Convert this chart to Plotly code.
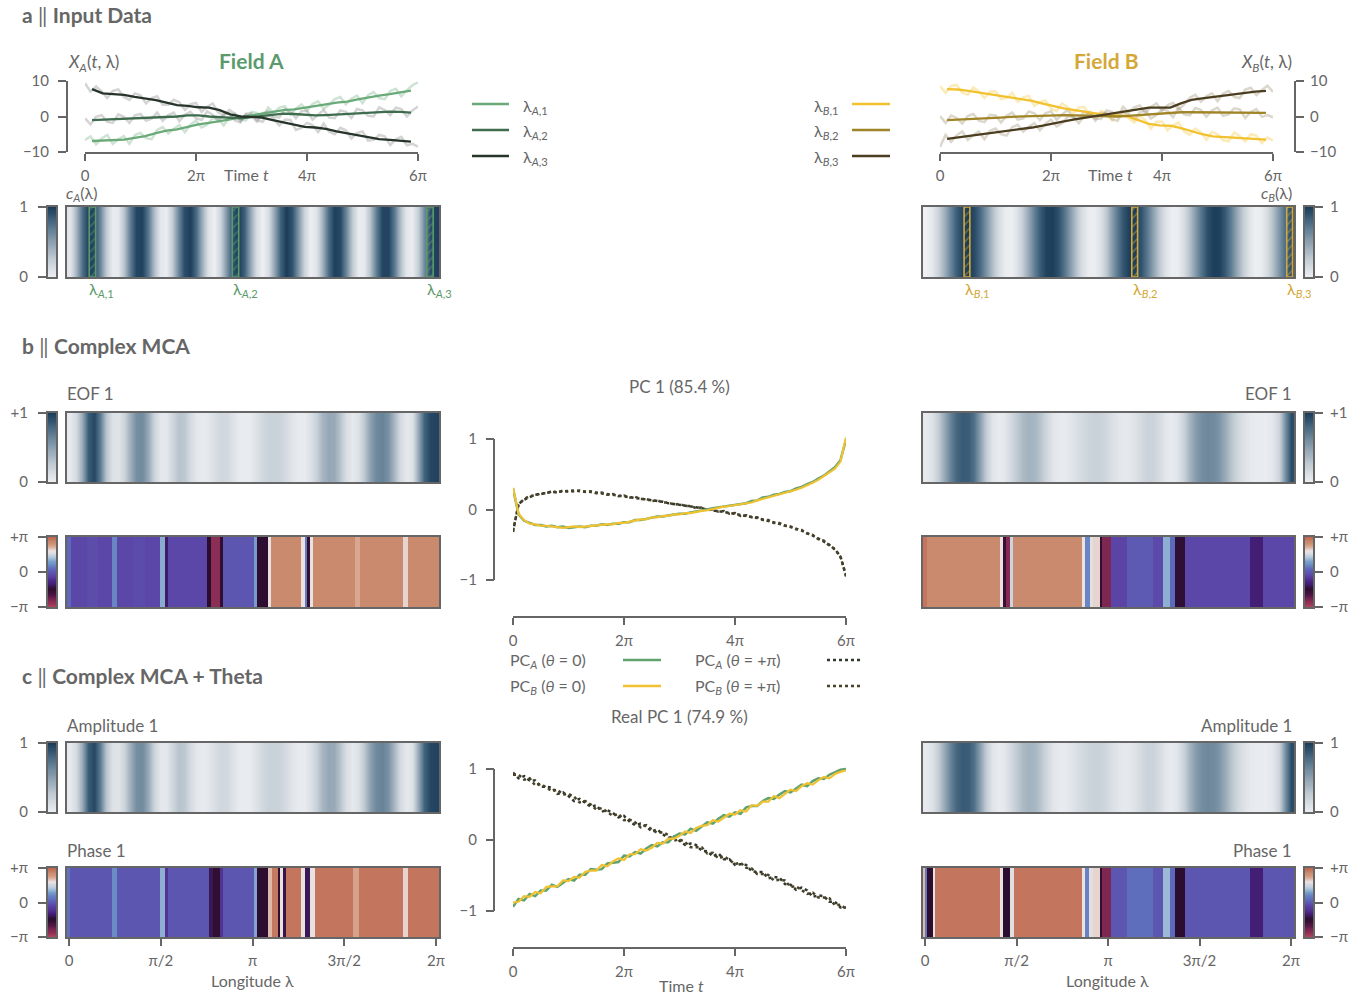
import numpy as np
import plotly.graph_objects as go

W, H = 1372, 995
PI = np.pi

# ---------------- data ----------------
t_raw = np.linspace(0, 6 * PI, 61)
t_smooth = np.linspace(0.4, 18.45, 31)
t_pc = np.linspace(0, 6 * PI, 61)

xa1_raw = [-6.6,-5.6,-7.8,-6.2,-5.2,-7.7,-6.4,-5.5,-7.7,-5.2,-4.6,-6.1,-6.4,-3.8,-3.0,-4.8,-3.5,-2.4,-4.4,-2.3,-1.1,-3.1,-2.3,-0.5,-0.6,-2.5,-0.3,0.8,-0.9,-1.1,1.3,1.0,-0.4,2.5,1.0,2.5,2.9,0.5,2.2,3.4,1.6,3.5,4.3,2.2,3.3,4.9,5.5,3.4,5.0,5.9,3.8,6.0,6.9,5.2,4.9,7.2,7.8,5.7,7.4,8.8,9.6]
xa2_raw = [-0.5,-2.2,-0.1,0.4,-1.5,-1.8,0.6,-0.1,-1.8,0.3,0.7,-1.2,-0.6,1.1,-1.2,0.4,1.1,-1.3,0.5,1.3,-0.5,-1.0,1.4,0.5,-1.3,0.6,1.0,-1.1,-1.7,0.6,0.1,-1.5,0.9,1.5,0.0,-0.3,2.1,1.4,-0.5,1.5,1.6,-0.9,0.5,1.8,-0.3,-0.5,1.7,1.3,-0.4,2.1,1.7,0.2,0.0,2.6,1.8,0.4,2.5,2.1,0.0,1.7,2.8]
xa3_raw = [9.4,7.0,8.5,7.1,5.2,7.2,7.6,5.5,4.7,6.5,6.0,3.7,5.2,5.7,3.3,3.3,4.7,4.0,1.9,3.5,3.8,1.3,2.7,3.7,1.2,0.3,1.9,0.8,-1.3,0.8,0.9,-1.0,-1.5,0.6,-0.7,-2.5,-0.9,-0.9,-3.8,-3.2,-1.8,-2.4,-4.4,-2.0,-4.3,-5.0,-3.2,-3.9,-6.2,-4.7,-4.2,-6.8,-6.6,-5.2,-5.6,-8.0,-6.4,-5.7,-8.1,-7.7,-8.5]
xa1_smooth = [-6.9,-6.8,-6.6,-6.5,-6.0,-5.5,-4.7,-4.0,-3.6,-2.9,-2.2,-1.8,-1.4,-0.8,-0.2,0.3,0.8,1.5,1.8,2.0,2.4,2.9,3.4,3.9,4.2,4.8,5.4,5.9,6.3,6.7,7.3]
xa2_smooth = [-1.0,-0.9,-0.7,-0.5,-0.5,-0.3,-0.3,-0.2,0.0,0.3,0.3,0.0,-0.2,-0.4,-0.5,-0.2,0.1,0.5,0.8,0.7,0.5,0.3,0.4,0.6,0.8,0.9,1.1,1.3,1.4,1.3,1.1]
xa3_smooth = [7.7,6.5,6.3,6.1,5.5,5.1,4.6,3.9,3.2,3.0,2.6,2.5,1.8,0.6,0.0,-0.1,-0.3,-1.0,-1.6,-2.4,-2.9,-3.1,-3.5,-4.2,-4.7,-5.2,-5.9,-6.4,-6.6,-6.8,-7.1]

xb1_raw = [8.6,6.6,8.6,8.9,6.7,6.1,8.2,7.1,5.2,7.0,7.1,4.9,5.2,6.7,4.1,5.4,5.8,3.0,4.1,4.5,2.2,1.5,3.7,2.6,0.8,2.5,2.7,0.5,-0.4,1.6,0.7,-1.1,1.1,1.3,-0.5,-1.7,0.2,-1.1,-3.4,-1.5,-1.4,-3.9,-2.5,-1.7,-4.3,-5.1,-3.4,-4.4,-6.6,-4.3,-5.0,-6.7,-7.0,-4.5,-5.5,-7.0,-5.0,-5.4,-7.5,-5.9,-6.8]
xb2_raw = [0.1,-1.8,0.3,-0.4,-2.0,0.1,0.7,-1.2,-1.6,0.5,0.3,-1.7,0.2,1.1,-0.9,-0.5,1.4,0.9,-1.0,0.9,1.5,-0.9,0.6,1.8,-0.4,-0.7,1.4,0.7,-1.2,1.0,1.0,-0.8,-1.2,1.4,0.5,-0.8,1.2,1.8,-0.6,0.4,2.0,1.6,-0.2,2.5,0.6,0.3,2.4,1.9,-0.1,1.7,2.5,0.2,0.6,2.3,2.0,-0.4,1.3,2.1,-0.1,0.4,-0.2]
xb3_raw = [-8.6,-5.2,-7.1,-5.3,-4.2,-6.6,-5.2,-4.2,-6.4,-4.0,-3.4,-5.0,-5.4,-3.0,-2.3,-4.3,-2.9,-1.9,-3.9,-2.0,-0.9,-2.8,-1.9,0.0,0.0,-1.9,0.2,1.3,-0.6,-0.7,1.7,1.3,-0.1,2.7,1.1,2.6,3.1,0.9,2.7,3.7,1.6,3.2,3.8,2.0,3.4,5.3,6.1,4.2,5.7,6.5,4.3,6.4,7.2,5.5,5.2,7.6,8.1,6.0,7.5,8.7,6.9]
xb1_smooth = [7.7,7.6,7.2,6.7,6.2,5.8,5.3,4.9,4.4,3.6,2.9,2.3,1.8,1.3,0.8,0.4,0.3,0.0,-1.0,-2.1,-2.5,-2.6,-3.3,-4.2,-5.0,-5.6,-5.8,-5.8,-6.0,-6.2,-6.5]
xb2_smooth = [-1.0,-0.9,-0.8,-0.6,-0.5,-0.3,-0.1,0.0,0.1,0.3,0.4,0.4,0.3,0.2,0.1,0.0,0.0,0.2,0.4,0.7,0.9,1.0,1.2,1.2,1.2,1.2,1.1,1.1,1.0,1.0,1.0]
xb3_smooth = [-6.3,-5.9,-5.5,-5.2,-4.8,-4.4,-3.9,-3.5,-3.1,-2.6,-2.1,-1.4,-0.8,-0.3,0.2,0.7,1.1,1.6,2.0,2.5,2.5,2.5,3.7,4.7,5.1,5.5,5.8,6.2,6.7,7.0,7.2]

# spatial profiles (longitude grid)
lam_grid = np.linspace(0.0165, 6.2835, 62)
c_A = [0.08,0.39,0.76,0.98,0.94,0.64,0.27,0.03,0.05,0.32,0.69,0.96,0.97,0.72,0.34,0.06,0.02,0.25,0.62,0.92,0.99,0.78,0.42,0.10,0.00,0.19,0.54,0.88,1.00,0.84,0.49,0.15,0.00,0.13,0.47,0.82,1.00,0.89,0.57,0.21,0.01,0.08,0.39,0.76,0.98,0.94,0.64,0.27,0.03,0.05,0.32,0.69,0.96,0.97,0.72,0.34,0.06,0.02,0.25,0.62,0.92,0.99]
c_B = [0.00,0.06,0.21,0.41,0.64,0.84,0.96,1.00,0.93,0.78,0.57,0.34,0.15,0.03,0.00,0.08,0.24,0.45,0.68,0.86,0.98,0.99,0.91,0.74,0.53,0.31,0.12,0.02,0.01,0.10,0.27,0.49,0.71,0.89,0.99,0.99,0.89,0.71,0.49,0.27,0.10,0.01,0.02,0.12,0.31,0.53,0.74,0.91,0.99,0.98,0.86,0.68,0.45,0.24,0.08,0.00,0.03,0.15,0.34,0.57,0.78,0.93]
lam_A_marks = [0.40, 2.85, 6.18]
lam_B_marks = [0.72, 3.60, 6.26]

amp_left = [0.05,0.15,0.45,0.85,0.95,0.70,0.30,0.10,0.08,0.20,0.42,0.60,0.62,0.45,0.20,0.06,0.06,0.18,0.30,0.28,0.15,0.06,0.04,0.06,0.12,0.18,0.17,0.10,0.04,0.03,0.04,0.10,0.17,0.22,0.22,0.20,0.14,0.07,0.04,0.04,0.10,0.22,0.38,0.46,0.45,0.30,0.12,0.05,0.10,0.28,0.50,0.63,0.66,0.58,0.38,0.15,0.05,0.10,0.45,0.82,0.95,0.97]
amp_right = [0.05,0.10,0.25,0.45,0.65,0.80,0.86,0.85,0.75,0.50,0.25,0.08,0.03,0.06,0.15,0.26,0.35,0.40,0.38,0.30,0.18,0.08,0.04,0.04,0.07,0.12,0.16,0.20,0.22,0.21,0.17,0.12,0.07,0.05,0.06,0.10,0.16,0.21,0.20,0.14,0.06,0.04,0.08,0.20,0.38,0.52,0.60,0.63,0.62,0.56,0.44,0.30,0.18,0.10,0.05,0.03,0.03,0.04,0.07,0.20,0.60,0.93]

phase_b_left_edges = [-0.035,0.03,0.30,0.50,0.73,0.82,1.10,1.30,1.56,1.64,1.70,2.36,2.43,2.59,2.63,3.16,3.21,3.41,3.45,3.98,4.04,4.08,4.13,4.18,4.90,4.98,5.72,5.81,6.335]
phase_b_left = [0.31,-0.25,-0.15,-0.25,0.63,-0.25,-0.18,-0.25,1.07,-1.07,-0.25,-1.51,-2.64,-1.6,0.0,0.9,-1.55,1.9,2.7,1.9,0.5,-1.6,1.9,2.7,2.35,2.7,2.0,2.7]
phase_b_right_edges = [-0.035,0.03,1.29,1.33,1.39,1.46,1.51,2.69,2.75,2.83,2.88,3.00,3.03,3.19,3.46,3.92,4.09,4.21,4.29,4.46,5.58,5.81,6.335]
phase_b_right = [2.95,2.7,1.9,-1.7,-2.6,1.6,2.7,1.9,0.63,1.8,2.0,-1.6,-2.5,-0.3,0.05,-0.2,1.1,0.3,-1.45,-0.25,-1.0,-0.25]
phase_c_left_edges = [-0.035,0.02,0.73,0.82,1.56,1.64,1.70,2.39,2.47,2.59,2.63,3.16,3.21,3.41,3.47,3.58,3.62,3.66,3.71,3.98,4.04,4.13,4.21,4.87,4.96,5.72,5.81,6.335]
phase_c_left = [0.4,0.0,0.7,0.0,1.1,-0.6,0.0,-1.2,-1.6,-0.6,0.0,1.0,-1.55,2.2,2.9,-1.6,1.9,-1.3,2.95,1.9,-1.2,1.9,2.95,2.4,2.95,2.0,2.95]
phase_c_right_edges = [-0.035,0.0,0.04,0.13,0.17,1.29,1.33,1.46,1.52,2.69,2.75,2.82,2.88,3.00,3.03,3.19,3.46,3.92,4.09,4.21,4.29,4.46,5.58,5.81,6.335]
phase_c_right = [2.2,0.5,-1.55,1.9,2.95,1.9,-1.5,1.8,2.95,1.9,0.6,1.8,2.0,-1.6,-2.5,0.0,0.35,0.0,1.2,0.3,-1.5,0.0,-1.0,0.0]

# principal components
pc_a0 = [0.30,-0.07,-0.16,-0.19,-0.22,-0.22,-0.24,-0.23,-0.25,-0.24,-0.26,-0.25,-0.24,-0.25,-0.23,-0.23,-0.21,-0.22,-0.20,-0.20,-0.18,-0.18,-0.15,-0.15,-0.13,-0.12,-0.10,-0.10,-0.08,-0.07,-0.06,-0.06,-0.04,-0.03,-0.02,0.00,0.02,0.03,0.04,0.06,0.06,0.08,0.09,0.12,0.13,0.17,0.18,0.21,0.22,0.25,0.26,0.30,0.32,0.36,0.39,0.44,0.48,0.54,0.60,0.70,0.99]
pc_b0 = [0.31,-0.06,-0.15,-0.20,-0.21,-0.23,-0.23,-0.24,-0.24,-0.26,-0.25,-0.24,-0.25,-0.24,-0.24,-0.22,-0.22,-0.21,-0.21,-0.19,-0.19,-0.17,-0.16,-0.14,-0.14,-0.11,-0.11,-0.09,-0.09,-0.07,-0.07,-0.05,-0.05,-0.03,-0.02,-0.01,0.01,0.02,0.04,0.05,0.06,0.07,0.09,0.10,0.13,0.15,0.18,0.19,0.22,0.23,0.26,0.28,0.31,0.34,0.38,0.42,0.47,0.52,0.58,0.68,1.02]
pc_api = [-0.32,0.08,0.14,0.18,0.21,0.22,0.24,0.25,0.25,0.26,0.26,0.27,0.26,0.26,0.25,0.24,0.23,0.22,0.21,0.20,0.19,0.18,0.17,0.16,0.14,0.13,0.12,0.11,0.09,0.08,0.07,0.06,0.04,0.03,0.02,0.00,-0.01,-0.02,-0.03,-0.05,-0.06,-0.08,-0.09,-0.10,-0.12,-0.14,-0.16,-0.18,-0.20,-0.22,-0.25,-0.27,-0.30,-0.33,-0.37,-0.41,-0.45,-0.50,-0.57,-0.66,-0.95]
pc_bpi = [-0.30,0.07,0.15,0.19,0.20,0.23,0.23,0.26,0.24,0.27,0.25,0.26,0.27,0.25,0.26,0.23,0.24,0.21,0.22,0.19,0.20,0.17,0.18,0.15,0.15,0.12,0.13,0.10,0.10,0.07,0.08,0.05,0.05,0.02,0.03,-0.01,0.00,-0.03,-0.02,-0.06,-0.05,-0.09,-0.08,-0.11,-0.11,-0.15,-0.15,-0.19,-0.19,-0.23,-0.24,-0.28,-0.29,-0.34,-0.36,-0.42,-0.44,-0.51,-0.56,-0.67,-0.93]

rpc_a0 = [-0.94,-0.83,-0.85,-0.76,-0.79,-0.71,-0.71,-0.63,-0.66,-0.60,-0.55,-0.57,-0.49,-0.49,-0.41,-0.42,-0.41,-0.33,-0.32,-0.31,-0.22,-0.23,-0.17,-0.19,-0.12,-0.07,-0.09,-0.03,-0.03,0.05,0.09,0.08,0.16,0.13,0.19,0.25,0.23,0.30,0.35,0.33,0.39,0.37,0.46,0.48,0.48,0.55,0.59,0.58,0.64,0.69,0.67,0.73,0.78,0.76,0.83,0.87,0.86,0.92,0.95,0.99,1.00]
rpc_b0 = [-0.88,-0.87,-0.79,-0.80,-0.73,-0.75,-0.66,-0.66,-0.65,-0.57,-0.58,-0.52,-0.53,-0.45,-0.43,-0.43,-0.35,-0.37,-0.30,-0.26,-0.28,-0.20,-0.20,-0.13,-0.15,-0.11,-0.04,-0.05,0.02,0.02,0.06,0.12,0.10,0.17,0.20,0.21,0.28,0.26,0.31,0.37,0.36,0.42,0.40,0.49,0.48,0.54,0.54,0.62,0.59,0.65,0.71,0.69,0.76,0.80,0.78,0.84,0.89,0.87,0.93,0.96,0.98]
rpc_api = [0.95,0.87,0.90,0.84,0.84,0.75,0.75,0.74,0.65,0.67,0.62,0.55,0.58,0.53,0.47,0.49,0.40,0.42,0.38,0.32,0.34,0.26,0.21,0.23,0.19,0.12,0.15,0.08,0.03,0.05,-0.01,-0.07,-0.05,-0.07,-0.15,-0.16,-0.23,-0.19,-0.27,-0.27,-0.35,-0.34,-0.35,-0.44,-0.45,-0.45,-0.54,-0.52,-0.53,-0.62,-0.63,-0.70,-0.67,-0.71,-0.80,-0.78,-0.79,-0.87,-0.87,-0.95,-0.95]
rpc_bpi = [0.92,0.92,0.85,0.87,0.77,0.79,0.74,0.69,0.71,0.64,0.65,0.61,0.53,0.55,0.50,0.43,0.45,0.40,0.34,0.37,0.28,0.29,0.25,0.18,0.21,0.15,0.10,0.11,0.07,-0.01,0.01,-0.03,-0.10,-0.10,-0.10,-0.19,-0.18,-0.26,-0.23,-0.28,-0.34,-0.32,-0.39,-0.40,-0.48,-0.48,-0.49,-0.57,-0.56,-0.57,-0.66,-0.65,-0.71,-0.76,-0.74,-0.81,-0.81,-0.82,-0.92,-0.91,-0.97]

time_ticks = [0, 2 * PI, 4 * PI, 6 * PI]
time_ticktext = ['0', '2π', '4π', '6π']
lon_ticks = [0, PI / 2, PI, 3 * PI / 2, 2 * PI]
lon_ticktext = ['0', 'π/2', 'π', '3π/2', '2π']

# ---------------- style ----------------
AX = '#666666'
FONT = 'Lato'
GREEN = '#5b9a6b'
GOLD = '#d4a838'
A_COLS = ['#6aaa78', '#3e6c4c', '#27342a']
A_FAINT = ['rgba(106,170,120,0.33)', 'rgba(120,125,120,0.33)', 'rgba(120,125,120,0.33)']
B_COLS = ['#f2c12e', '#a08428', '#4b3d20']
B_FAINT = ['rgba(242,193,46,0.33)', 'rgba(150,135,100,0.33)', 'rgba(150,135,100,0.33)']
PC_GREEN = '#62a26f'
PC_YELLOW = '#f0c232'
DOT_A = '#2f3a2c'
DOT_B = '#4a4128'

amp_cs = [[0, '#eef0f3'], [0.25, '#c4cdd5'], [0.5, '#8da1b1'], [0.75, '#52728a'], [1, '#1b3d5a']]
phase_cs = [[0.00, '#b3485c'], [0.08, '#8c2d55'], [0.17, '#521746'], [0.26, '#2b0d2e'],
            [0.35, '#45207c'], [0.45, '#5b43a6'], [0.55, '#5d6abb'], [0.64, '#729acb'],
            [0.72, '#b4cadc'], [0.80, '#ebe3e4'], [0.87, '#daa892'], [0.93, '#c98a6d'],
            [1.00, '#bf6650']]

TF = dict(family=FONT, size=15, color=AX)
TICK = dict(ticks='outside', tickwidth=2, tickcolor=AX, showticklabels=True, tickfont=TF)
FRAME = dict(showline=True, mirror=True, linewidth=2, linecolor=AX)

fig = go.Figure()
axes = {}
count = [0]


def new_axes(x0, x1, ytop, ybot, xkw=None, ykw=None):
    count[0] += 1
    n = count[0]
    s = '' if n == 1 else str(n)
    base = dict(showgrid=False, zeroline=False, showticklabels=False, ticks='',
                showline=False, fixedrange=True, automargin=False)
    xa = dict(base, domain=[x0 / W, x1 / W], anchor='y' + s)
    ya = dict(base, domain=[1 - ybot / H, 1 - ytop / H], anchor='x' + s)
    if xkw:
        xa.update(xkw)
    if ykw:
        ya.update(ykw)
    axes['xaxis' + s] = xa
    axes['yaxis' + s] = ya
    return 'x' + s, 'y' + s


LAM_RANGE = [-0.035, 6.335]


def amp_heat(x0, x1, ytop, ybot, values, xkw=None):
    xk = dict(FRAME, range=LAM_RANGE)
    if xkw:
        xk.update(xkw)
    xid, yid = new_axes(x0, x1, ytop, ybot, xk, dict(FRAME, range=[0, 1]))
    fig.add_trace(go.Heatmap(x=lam_grid, y=[0, 1], z=[values, values], colorscale=amp_cs,
                             zmin=0, zmax=1, zsmooth='best', showscale=False,
                             xaxis=xid, yaxis=yid, hoverinfo='skip'))
    return xid, yid


def phase_heat(x0, x1, ytop, ybot, edges, values, xkw=None):
    xk = dict(FRAME, range=LAM_RANGE)
    if xkw:
        xk.update(xkw)
    xid, yid = new_axes(x0, x1, ytop, ybot, xk, dict(FRAME, range=[0, 1]))
    fig.add_trace(go.Heatmap(x=edges, y=[0, 1], z=[values], colorscale=phase_cs,
                             zmin=-PI, zmax=PI, showscale=False,
                             xaxis=xid, yaxis=yid, hoverinfo='skip'))
    return xid, yid


def cbar(side, ytop, ybot, lo, hi, cs, tickvals, ticktext):
    x0, x1 = (48, 56) if side == 'left' else (1305, 1313)
    yk = dict(FRAME, **TICK, range=[lo, hi], side=side, tickvals=tickvals, ticktext=ticktext,
              ticklen=8, ticklabelstandoff=7 if side == 'left' else 4)
    xid, yid = new_axes(x0, x1, ytop, ybot, dict(FRAME, range=[0, 1]), yk)
    g = np.linspace(lo, hi, 64)
    fig.add_trace(go.Heatmap(x=[0, 1], y=g, z=[[v, v] for v in g], colorscale=cs,
                             zmin=lo, zmax=hi, zsmooth='best', showscale=False,
                             xaxis=xid, yaxis=yid, hoverinfo='skip'))


def line(xid, yid, x, y, color, width=2, dash=None):
    fig.add_trace(go.Scatter(x=x, y=y, mode='lines', xaxis=xid, yaxis=yid, hoverinfo='skip',
                             line=dict(color=color, width=width, dash=dash)))


# ---------------- panel a: input fields ----------------
xkw_t = dict(range=[0, 6 * PI], showline=True, linewidth=2, linecolor=AX, **TICK, ticklen=7,
             tickvals=time_ticks, ticktext=time_ticktext, ticklabelstandoff=2)
ykw_A = dict(range=[-10, 10], showline=True, linewidth=2, linecolor=AX, **TICK, ticklen=8,
             tickvals=[-10, 0, 10], ticktext=['−10', '0', '10'], anchor='free',
             position=67 / W, ticklabelstandoff=6)
xid, yid = new_axes(85, 418, 81, 152, xkw_t, ykw_A)
for raw, col in zip([xa1_raw, xa2_raw, xa3_raw], A_FAINT):
    line(xid, yid, t_raw, raw, col, 2.5)
for sm, col in zip([xa1_smooth, xa2_smooth, xa3_smooth], A_COLS):
    line(xid, yid, t_smooth, sm, col, 2.3)

ykw_B = dict(ykw_A, side='right', position=1295 / W, ticklabelstandoff=3)
xid, yid = new_axes(940, 1273, 81, 152, xkw_t, ykw_B)
for raw, col in zip([xb1_raw, xb2_raw, xb3_raw], B_FAINT):
    line(xid, yid, t_raw, raw, col, 2.5)
for sm, col in zip([xb1_smooth, xb2_smooth, xb3_smooth], B_COLS):
    line(xid, yid, t_smooth, sm, col, 2.3)


def hatch(xid, yid, marks, color, width):
    fig.add_trace(go.Bar(x=marks, y=[1] * len(marks), base=[0] * len(marks), width=width,
                         xaxis=xid, yaxis=yid, hoverinfo='skip',
                         marker=dict(color='rgba(0,0,0,0)', line=dict(color=color, width=1.6),
                                     pattern=dict(shape='/', fgcolor=color, bgcolor='rgba(0,0,0,0)',
                                                  size=6, solidity=0.25, fillmode='overlay'))))


xid, yid = amp_heat(67, 439, 207, 277, c_A)
hatch(xid, yid, lam_A_marks, GREEN, 0.11)
cbar('left', 207, 277, 0, 1, amp_cs, [0, 1], ['0', '1'])
xid, yid = amp_heat(923, 1294, 207, 277, c_B)
hatch(xid, yid, lam_B_marks, GOLD, 0.10)
cbar('right', 207, 277, 0, 1, amp_cs, [0, 1], ['0', '1'])

# ---------------- panel b: complex MCA ----------------
PH_T = [-PI, 0, PI]
PH_TT = ['−π', '0', '+π']
amp_heat(67, 439, 413, 482, amp_left)
cbar('left', 413, 482, 0, 1, amp_cs, [0, 1], ['0', '+1'])
phase_heat(67, 439, 537, 607, phase_b_left_edges, phase_b_left)
cbar('left', 537, 607, -PI, PI, phase_cs, PH_T, PH_TT)
amp_heat(923, 1294, 413, 482, amp_right)
cbar('right', 413, 482, 0, 1, amp_cs, [0, 1], ['0', '+1'])
phase_heat(923, 1294, 537, 607, phase_b_right_edges, phase_b_right)
cbar('right', 537, 607, -PI, PI, phase_cs, PH_T, PH_TT)

xkw_pc = dict(range=[0, 6 * PI], showline=True, linewidth=2, linecolor=AX, **TICK, ticklen=7,
              tickvals=time_ticks, ticktext=time_ticktext, ticklabelstandoff=3)
ykw_pc = dict(range=[-1.51, 1.05], **TICK, ticklen=8, tickvals=[-1, 0, 1],
              ticktext=['−1', '0', '1'], anchor='free', position=494 / W, ticklabelstandoff=6)
xid_pc, yid_pc = new_axes(513, 846, 435.5, 616, xkw_pc, ykw_pc)
line(xid_pc, yid_pc, t_pc, pc_api, DOT_A, 2.5, 'dot')
line(xid_pc, yid_pc, t_pc, pc_bpi, DOT_B, 2.5, 'dot')
line(xid_pc, yid_pc, t_pc, pc_a0, PC_GREEN, 2.5)
line(xid_pc, yid_pc, t_pc, pc_b0, PC_YELLOW, 2.2)

# ---------------- panel c: complex MCA + theta ----------------
lon_kw = dict(**TICK, ticklen=7, tickvals=lon_ticks, ticktext=lon_ticktext, ticklabelstandoff=2)
amp_heat(67, 439, 743, 812, amp_left)
cbar('left', 743, 812, 0, 1, amp_cs, [0, 1], ['0', '1'])
phase_heat(67, 439, 868, 937, phase_c_left_edges, phase_c_left, lon_kw)
cbar('left', 868, 937, -PI, PI, phase_cs, PH_T, PH_TT)
amp_heat(923, 1294, 743, 812, amp_right)
cbar('right', 743, 812, 0, 1, amp_cs, [0, 1], ['0', '1'])
phase_heat(923, 1294, 868, 937, phase_c_right_edges, phase_c_right, lon_kw)
cbar('right', 868, 937, -PI, PI, phase_cs, PH_T, PH_TT)

ykw_rpc = dict(ykw_pc, range=[-1.507, 1.05])
xid_rpc, yid_rpc = new_axes(513, 846, 765.5, 947, xkw_pc, ykw_rpc)
line(xid_rpc, yid_rpc, t_pc, rpc_api, DOT_A, 2.5, 'dot')
line(xid_rpc, yid_rpc, t_pc, rpc_bpi, DOT_B, 2.5, 'dot')
line(xid_rpc, yid_rpc, t_pc, rpc_a0, PC_GREEN, 2.5)
line(xid_rpc, yid_rpc, t_pc, rpc_b0, PC_YELLOW, 2.2)

# ---------------- annotations ----------------
anns = []


def ann(text, x, y, size=16, color=AX, xanchor='left', yanchor='middle'):
    anns.append(dict(text=text, x=x / W, y=1 - y / H, xref='paper', yref='paper',
                     xanchor=xanchor, yanchor=yanchor, showarrow=False,
                     font=dict(family=FONT, size=size, color=color)))


ann('<b>a</b> ‖ <b>Input Data</b>', 20, 15, 21)
ann('<b>b</b> ‖ <b>Complex MCA</b>', 20, 345, 21)
ann('<b>c</b> ‖ <b>Complex MCA + Theta</b>', 20, 675, 21)
ann('<b>Field A</b>', 251, 61, 21, GREEN, 'center')
ann('<b>Field B</b>', 1106, 61, 21, GOLD, 'center')
ann('<i>X</i><sub><i>A</i></sub>(<i>t</i>, λ)', 66, 63, 17)
ann('<i>X</i><sub><i>B</i></sub>(<i>t</i>, λ)', 1294, 63, 17, AX, 'right')
ann('Time <i>t</i>', 246, 175, 16, AX, 'center')
ann('Time <i>t</i>', 1110, 175, 16, AX, 'center')
ann('<i>c</i><sub><i>A</i></sub>(λ)', 64, 193, 16)
ann('<i>c</i><sub><i>B</i></sub>(λ)', 1294, 193, 16, AX, 'right')
for k, px in enumerate([87, 231, 425]):
    ann('λ<sub><i>A</i>,%d</sub>' % (k + 1), px, 290, 16, GREEN)
for k, px in enumerate([963, 1131, 1285]):
    ann('λ<sub><i>B</i>,%d</sub>' % (k + 1), px, 290, 16, GOLD)
for k, py in enumerate([104, 130, 156]):
    ann('λ<sub><i>A</i>,%d</sub>' % (k + 1), 521, py + 2, 16)
    ann('λ<sub><i>B</i>,%d</sub>' % (k + 1), 840, py + 2, 16, AX, 'right')

ann('EOF 1', 65, 393, 17)
ann('EOF 1', 1294, 393, 17, AX, 'right')
ann('PC 1 (85.4 %)', 679, 386, 17, AX, 'center')
ann('PC<sub><i>A</i></sub> (<i>θ</i> = 0)', 508, 660, 16)
ann('PC<sub><i>B</i></sub> (<i>θ</i> = 0)', 508, 686, 16)
ann('PC<sub><i>A</i></sub> (<i>θ</i> = +π)', 693, 660, 16)
ann('PC<sub><i>B</i></sub> (<i>θ</i> = +π)', 693, 686, 16)
ann('Real PC 1 (74.9 %)', 679, 716, 17, AX, 'center')
ann('Amplitude 1', 65, 725, 17)
ann('Amplitude 1', 1294, 725, 17, AX, 'right')
ann('Phase 1', 65, 850, 17)
ann('Phase 1', 1294, 850, 17, AX, 'right')
ann('Longitude λ', 252, 980, 16, AX, 'center')
ann('Longitude λ', 1107, 980, 16, AX, 'center')
ann('Time <i>t</i>', 681, 985, 16, AX, 'center')

# ---------------- legend keys & trimmed spines ----------------
shapes = []


def hline(x0, x1, y, color, width=2.5, dash=None):
    shapes.append(dict(type='line', xref='paper', yref='paper', x0=x0 / W, x1=x1 / W,
                       y0=1 - y / H, y1=1 - y / H, line=dict(color=color, width=width, dash=dash)))


for py, col in zip([104, 130, 156], A_COLS):
    hline(472, 509, py, col)
for py, col in zip([104, 130, 156], B_COLS):
    hline(852, 890, py, col)
hline(623, 661, 660, PC_GREEN)
hline(623, 661, 686, PC_YELLOW)
hline(827, 861, 660, DOT_A, 2.5, 'dot')
hline(827, 861, 686, DOT_B, 2.5, 'dot')

for yid_ in [yid_pc, yid_rpc]:
    shapes.append(dict(type='line', xref='paper', yref=yid_, x0=494 / W, x1=494 / W, y0=-1, y1=1,
                       line=dict(color=AX, width=2)))

fig.update_layout(**axes)
fig.update_layout(width=W, height=H, margin=dict(l=0, r=0, t=0, b=0, pad=0, autoexpand=False),
                  autosize=False, showlegend=False, plot_bgcolor='white', paper_bgcolor='white',
                  annotations=anns, shapes=shapes, barmode='overlay',
                  font=dict(family=FONT, color=AX))

fig.write_html('out.html', config={'displayModeBar': False},
               post_script="document.body.style.margin='0';document.body.style.overflow='hidden';")
